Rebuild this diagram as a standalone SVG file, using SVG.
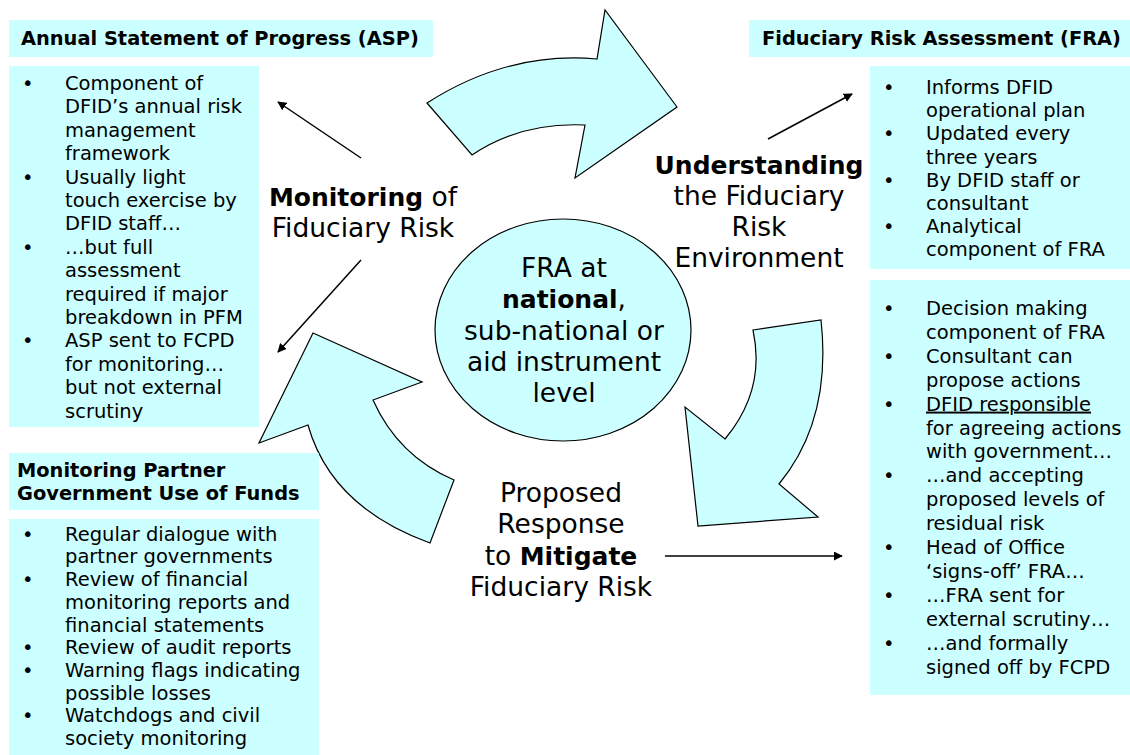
<svg xmlns="http://www.w3.org/2000/svg" width="1130" height="755" viewBox="0 0 1130 755">
<defs>
<style>
.box{fill:#CCFFFF;stroke:none}
.blk{fill:#CCFFFF;stroke:#000;stroke-width:1.2;stroke-linejoin:miter}
.t{font-family:"DejaVu Sans","Verdana",sans-serif;font-size:19.5px;fill:#000}
.h{font-family:"DejaVu Sans","Verdana",sans-serif;font-size:19.4px;font-weight:bold;fill:#000}
.big{font-family:"DejaVu Sans","Verdana",sans-serif;font-size:26.5px;fill:#000;text-anchor:middle}
.b{font-weight:bold;font-size:25px}
.ln{stroke:#000;stroke-width:1.5;fill:none;marker-end:url(#ah)}
</style>
<marker id="ah" viewBox="0 0 10 10" refX="9" refY="5" markerWidth="9" markerHeight="9" markerUnits="userSpaceOnUse" orient="auto">
<path d="M0,0 L10,5 L0,10 z" fill="#000"/>
</marker>
</defs>
<rect width="1130" height="755" fill="#fff"/>

<g id="cycle-arrows">
<path id="arrow-top" class="blk" d="M427,103 L472,155 Q521,122 585,125 L575,178 L677,107 L605,10 L597,59 Q508,51 427,103 Z"/>
<path id="arrow-right" class="blk" d="M753,330 L821,320 Q832,420 779,484 L818,517 L698,526 L685,407 L725,439 Q766,390 753,330 Z"/>
<path id="arrow-left" class="blk" d="M313,333 L422,382 L373,400 Q398,456 454,480 L430,543 Q331,507 308,425 L259,443 Z"/>
</g>

<g id="center">
<ellipse cx="563" cy="330" rx="128" ry="111" fill="#CCFFFF" stroke="#000" stroke-width="1.2"/>
<text class="big" x="564" y="277">FRA at</text>
<text class="big" x="564" y="308"><tspan class="b">national</tspan>,</text>
<text class="big" x="564" y="340">sub-national or</text>
<text class="big" x="564" y="371">aid instrument</text>
<text class="big" x="564" y="402">level</text>
</g>

<g id="label-monitoring">
<text class="big" x="363" y="206"><tspan class="b">Monitoring</tspan> of</text>
<text class="big" x="363" y="237">Fiduciary Risk</text>
</g>

<g id="label-understanding">
<text class="big" x="759" y="174"><tspan class="b">Understanding</tspan></text>
<text class="big" x="759" y="205">the Fiduciary</text>
<text class="big" x="759" y="236">Risk</text>
<text class="big" x="759" y="267">Environment</text>
</g>

<g id="label-mitigate">
<text class="big" x="561" y="502">Proposed</text>
<text class="big" x="561" y="533">Response</text>
<text class="big" x="561" y="565">to <tspan class="b">Mitigate</tspan></text>
<text class="big" x="561" y="596">Fiduciary Risk</text>
</g>

<g id="connectors">
<line class="ln" x1="361" y1="158" x2="278" y2="102"/>
<line class="ln" x1="361" y1="260" x2="278" y2="352"/>
<line class="ln" x1="768" y1="139" x2="852" y2="94"/>
<line class="ln" x1="665" y1="556" x2="842" y2="556"/>
</g>

<g id="asp-header">
<rect class="box" x="9" y="20" width="424" height="37"/>
<text class="h" x="21" y="45">Annual Statement of Progress (ASP)</text>
</g>

<g id="asp-body">
<rect class="box" x="9" y="66" width="250" height="361"/>
<text class="t">
<tspan x="22" y="90">•</tspan><tspan x="65" y="90">Component of</tspan>
<tspan x="65" y="113.4">DFID’s annual risk</tspan>
<tspan x="65" y="136.8">management</tspan>
<tspan x="65" y="160.2">framework</tspan>
<tspan x="22" y="183.6">•</tspan><tspan x="65" y="183.6">Usually light</tspan>
<tspan x="65" y="207">touch exercise by</tspan>
<tspan x="65" y="230.4">DFID staff…</tspan>
<tspan x="22" y="253.8">•</tspan><tspan x="65" y="253.8">…but full</tspan>
<tspan x="65" y="277.2">assessment</tspan>
<tspan x="65" y="300.6">required if major</tspan>
<tspan x="65" y="324">breakdown in PFM</tspan>
<tspan x="22" y="347.4">•</tspan><tspan x="65" y="347.4">ASP sent to FCPD</tspan>
<tspan x="65" y="370.8">for monitoring…</tspan>
<tspan x="65" y="394.2">but not external</tspan>
<tspan x="65" y="417.6">scrutiny</tspan>
</text>
</g>

<g id="fra-header">
<rect class="box" x="749" y="20" width="381" height="37"/>
<text class="h" x="762" y="45">Fiduciary Risk Assessment (FRA)</text>
</g>

<g id="fra-analytical">
<rect class="box" x="870" y="66" width="260" height="203"/>
<text class="t">
<tspan x="883" y="94">•</tspan><tspan x="926" y="94">Informs DFID</tspan>
<tspan x="926" y="117.2">operational plan</tspan>
<tspan x="883" y="140.4">•</tspan><tspan x="926" y="140.4">Updated every</tspan>
<tspan x="926" y="163.6">three years</tspan>
<tspan x="883" y="186.8">•</tspan><tspan x="926" y="186.8">By DFID staff or</tspan>
<tspan x="926" y="210">consultant</tspan>
<tspan x="883" y="233.2">•</tspan><tspan x="926" y="233.2">Analytical</tspan>
<tspan x="926" y="256.4">component of FRA</tspan>
</text>
</g>

<g id="fra-decision">
<rect class="box" x="870" y="280" width="260" height="415"/>
<text class="t">
<tspan x="883" y="315">•</tspan><tspan x="926" y="315">Decision making</tspan>
<tspan x="926" y="338.9">component of FRA</tspan>
<tspan x="883" y="362.8">•</tspan><tspan x="926" y="362.8">Consultant can</tspan>
<tspan x="926" y="386.7">propose actions</tspan>
<tspan x="883" y="410.6">•</tspan><tspan x="926" y="410.6" text-decoration="underline">DFID responsible</tspan>
<tspan x="926" y="434.5">for agreeing actions</tspan>
<tspan x="926" y="458.4">with government…</tspan>
<tspan x="883" y="482.3">•</tspan><tspan x="926" y="482.3">…and accepting</tspan>
<tspan x="926" y="506.2">proposed levels of</tspan>
<tspan x="926" y="530.1">residual risk</tspan>
<tspan x="883" y="554">•</tspan><tspan x="926" y="554">Head of Office</tspan>
<tspan x="926" y="577.9">‘signs-off’ FRA…</tspan>
<tspan x="883" y="601.8">•</tspan><tspan x="926" y="601.8">…FRA sent for</tspan>
<tspan x="926" y="625.7">external scrutiny…</tspan>
<tspan x="883" y="649.6">•</tspan><tspan x="926" y="649.6">…and formally</tspan>
<tspan x="926" y="673.5">signed off by FCPD</tspan>
</text>
</g>

<g id="mpg-header">
<rect class="box" x="9" y="453" width="310" height="57"/>
<text class="h"><tspan x="17" y="477">Monitoring Partner</tspan><tspan x="17" y="500">Government Use of Funds</tspan></text>
</g>

<g id="mpg-body">
<rect class="box" x="9" y="519" width="310" height="236"/>
<text class="t">
<tspan x="22" y="540.7">•</tspan><tspan x="65" y="540.7">Regular dialogue with</tspan>
<tspan x="65" y="563.4">partner governments</tspan>
<tspan x="22" y="586.1">•</tspan><tspan x="65" y="586.1">Review of financial</tspan>
<tspan x="65" y="608.8">monitoring reports and</tspan>
<tspan x="65" y="631.5">financial statements</tspan>
<tspan x="22" y="654.2">•</tspan><tspan x="65" y="654.2">Review of audit reports</tspan>
<tspan x="22" y="676.9">•</tspan><tspan x="65" y="676.9">Warning flags indicating</tspan>
<tspan x="65" y="699.6">possible losses</tspan>
<tspan x="22" y="722.3">•</tspan><tspan x="65" y="722.3">Watchdogs and civil</tspan>
<tspan x="65" y="745">society monitoring</tspan>
</text>
</g>
</svg>
